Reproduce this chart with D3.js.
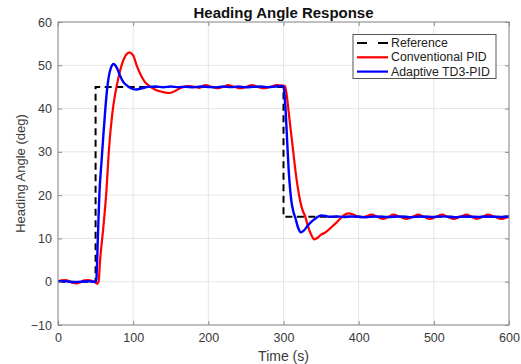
<!DOCTYPE html>
<html><head><meta charset="utf-8">
<script src="https://cdn.jsdelivr.net/npm/d3@7"></script>
<style>
body{margin:0;background:#fff;}
svg{display:block;font-family:"Liberation Sans",Arial,Helvetica,sans-serif;}
</style>
</head><body>
<svg id="chart" width="521" height="364"></svg>
<script>
// ---- data ----
const titleText = "Heading Angle Response";
const xLabel = "Time (s)";
const yLabel = "Heading Angle (deg)";
const seriesNames = ["Reference", "Conventional PID", "Adaptive TD3-PID"];
const seriesColors = ["#000000", "#ff0000", "#0000ff"];
const xTicks = [0, 100, 200, 300, 400, 500, 600];
const yTicks = [-10, 0, 10, 20, 30, 40, 50, 60];

const refPoints = [[0,0],[50,0],[50,45],[300,45],[300,15],[600,15]];

const pidPoints = [
  [0,0.1],[5,0.3],[10,0.4],[15,0.1],[20,-0.3],[25,-0.4],[30,-0.1],[35,0.3],[40,0.4],[45,0.2],
  [50,-0.2],[52,-0.5],[54,0],[56,5],[60,12],[64,20],[68,31],[72,38.5],[76,43.3],[80,46.8],
  [85,50.2],[90,52.3],[95,53],[100,52.3],[105,49.8],[110,47.8],[115,46.3],[120,45.4],[125,44.8],
  [130,44.3],[140,43.8],[149,43.6],[157,44.2],[165,44.9],[175,45.2],[182,45.0],[188,44.8],
  [196,45.4],[205,45.0],[212,44.7],[220,45.0],[226,45.4],[235,45.0],[243,44.7],[250,45.0],
  [258,45.4],[266,45.0],[274,44.7],[282,45.0],[291,45.4],[298,45.3],[302,45.2],[304,43.5],
  [307,39],[310,34.5],[313,30],[316,25.5],[319,21.8],[322,18.8],[325,16.7],[329,15.0],
  [333,12.6],[337,10.8],[341,9.8],[345,10.1],[350,10.9],[355,11.3],[360,12.0],[365,12.8],
  [370,13.6],[375,14.5],[380,15.3],[386,15.8],[392,15.6],[398,15.1],[404,14.9],[410,15.1],
  [417,15.5],[425,15.0],[433,14.5],[440,15.0],[446,15.5],[455,15.0],[464,14.5],[472,15.0],
  [479,15.5],[487,15.0],[495,14.5],[503,15.0],[511,15.5],[518,15.0],[526,14.5],[535,15.0],
  [544,15.5],[550,15.0],[557,14.5],[565,15.0],[572,15.5],[581,15.0],[590,14.5],[596,14.8],[600,15.0]
];

const td3Points = [
  [0,0.1],[10,0.1],[20,-0.1],[30,0.0],[40,0.1],[48,0.0],[50,0.0],[51,0.5],[53,10],[55,20],
  [58,28],[60,33],[63,40],[66,45.5],[70,49.2],[74,50.3],[78,49.5],[83,47.4],[87,46.1],
  [92,45.3],[97,44.7],[104,44.4],[112,44.7],[120,45.0],[130,45.1],[140,44.9],[150,45.1],
  [160,44.95],[170,45.05],[180,44.9],[190,45.1],[200,45.0],[210,44.9],[220,45.1],[230,44.95],
  [240,45.1],[250,44.9],[260,45.05],[270,45.1],[280,44.95],[290,45.1],[298,45.2],[300,45.0],
  [301,44],[303,39],[305,32],[307,25.5],[309,21],[311,18],[313,16.3],[316,14.6],[319,12.7],
  [323,11.4],[327,11.8],[332,12.9],[338,14.0],[344,14.8],[350,15.3],[356,15.2],[362,15.0],
  [370,15.1],[380,14.95],[390,15.05],[400,15.0],[410,14.9],[420,15.05],[430,15.0],[440,14.95],
  [450,15.05],[460,15.0],[470,14.9],[480,15.05],[490,15.0],[500,14.95],[510,15.1],[520,15.0],
  [530,14.9],[540,15.05],[550,15.0],[560,14.95],[570,15.05],[580,15.0],[590,14.95],[600,15.05]
];

// ---- layout ----
const svg = d3.select("#chart");
const W = 521, H = 364;
const m = {left: 58, right: 12, top: 22, bottom: 39};
const pw = W - m.left - m.right, ph = H - m.top - m.bottom;

const x = d3.scaleLinear().domain([0, 600]).range([m.left, m.left + pw]);
const y = d3.scaleLinear().domain([-10, 60]).range([m.top + ph, m.top]);

const axisColor = "#8c8c8c", textColor = "#3a3a3a", gridColor = "#e6e6e6";

// grid
const grid = svg.append("g");
grid.selectAll("line.gx").data(xTicks).join("line")
  .attr("x1", d => x(d)).attr("x2", d => x(d))
  .attr("y1", m.top).attr("y2", m.top + ph)
  .attr("stroke", gridColor).attr("stroke-width", 1);
grid.selectAll("line.gy").data(yTicks).join("line")
  .attr("x1", m.left).attr("x2", m.left + pw)
  .attr("y1", d => y(d)).attr("y2", d => y(d))
  .attr("stroke", gridColor).attr("stroke-width", 1);

// lines
svg.append("clipPath").attr("id", "clip").append("rect")
  .attr("x", m.left).attr("y", m.top).attr("width", pw).attr("height", ph);
const plot = svg.append("g").attr("clip-path", "url(#clip)");

const lineLin = d3.line().x(d => x(d[0])).y(d => y(d[1]));
const lineSmooth = d3.line().x(d => x(d[0])).y(d => y(d[1])).curve(d3.curveMonotoneX);

plot.append("path").datum(refPoints).attr("d", lineLin)
  .attr("fill", "none").attr("stroke", seriesColors[0]).attr("stroke-width", 2)
  .attr("stroke-dasharray", "7,4.5");
plot.append("path").datum(pidPoints).attr("d", lineSmooth)
  .attr("fill", "none").attr("stroke", seriesColors[1]).attr("stroke-width", 2.2)
  .attr("stroke-linejoin", "round");
plot.append("path").datum(td3Points).attr("d", lineSmooth)
  .attr("fill", "none").attr("stroke", seriesColors[2]).attr("stroke-width", 2.4)
  .attr("stroke-linejoin", "round");

// axes
function styleAxis(g) {
  g.select(".domain").remove();
  g.selectAll(".tick line").attr("stroke", axisColor);
  g.selectAll(".tick text").attr("fill", textColor).style("font-size", "12.5px");
}
svg.append("g").attr("transform", `translate(0,${m.top + ph})`)
  .call(d3.axisBottom(x).tickValues(xTicks).tickSizeInner(-4).tickSizeOuter(0).tickPadding(8))
  .call(styleAxis);
svg.append("g").attr("transform", `translate(0,${m.top})`)
  .call(d3.axisTop(x).tickValues(xTicks).tickSizeInner(-4).tickSizeOuter(0).tickFormat(""))
  .call(styleAxis);
svg.append("g").attr("transform", `translate(${m.left},0)`)
  .call(d3.axisLeft(y).tickValues(yTicks).tickSizeInner(-4).tickSizeOuter(0).tickPadding(6))
  .call(styleAxis);
svg.append("g").attr("transform", `translate(${m.left + pw},0)`)
  .call(d3.axisRight(y).tickValues(yTicks).tickSizeInner(-4).tickSizeOuter(0).tickFormat(""))
  .call(styleAxis);

svg.append("rect").attr("x", m.left).attr("y", m.top).attr("width", pw).attr("height", ph)
  .attr("fill", "none").attr("stroke", axisColor).attr("stroke-width", 1);

// labels
svg.append("text").attr("x", m.left + pw / 2).attr("y", 13)
  .attr("text-anchor", "middle").attr("dominant-baseline", "central")
  .attr("textLength", 180).attr("lengthAdjust", "spacingAndGlyphs")
  .style("font-size", "14px").style("font-weight", "bold").attr("fill", "#111")
  .text(titleText);
svg.append("text").attr("x", m.left + pw / 2).attr("y", 356)
  .attr("text-anchor", "middle").attr("dominant-baseline", "central")
  .style("font-size", "14px").attr("fill", textColor).text(xLabel);
svg.append("text").attr("transform", `translate(20,${m.top + ph / 2}) rotate(-90)`)
  .attr("text-anchor", "middle").attr("dominant-baseline", "central")
  .style("font-size", "13px").attr("fill", textColor).text(yLabel);

// legend
const lg = svg.append("g").attr("transform", "translate(353,34.5)");
lg.append("rect").attr("width", 143).attr("height", 44)
  .attr("fill", "#fff").attr("stroke", "#555").attr("stroke-width", 1);
seriesNames.forEach((name, i) => {
  const cy = 8.5 + i * 14.3;
  lg.append("line").attr("x1", 4).attr("x2", 35).attr("y1", cy).attr("y2", cy)
    .attr("stroke", seriesColors[i]).attr("stroke-width", i === 0 ? 2 : 2.2)
    .attr("stroke-dasharray", i === 0 ? "10,11" : null);
  lg.append("text").attr("x", 38).attr("y", cy).attr("dominant-baseline", "central")
    .style("font-size", "12.3px").attr("fill", "#222").text(name);
});
</script>
</body></html>
